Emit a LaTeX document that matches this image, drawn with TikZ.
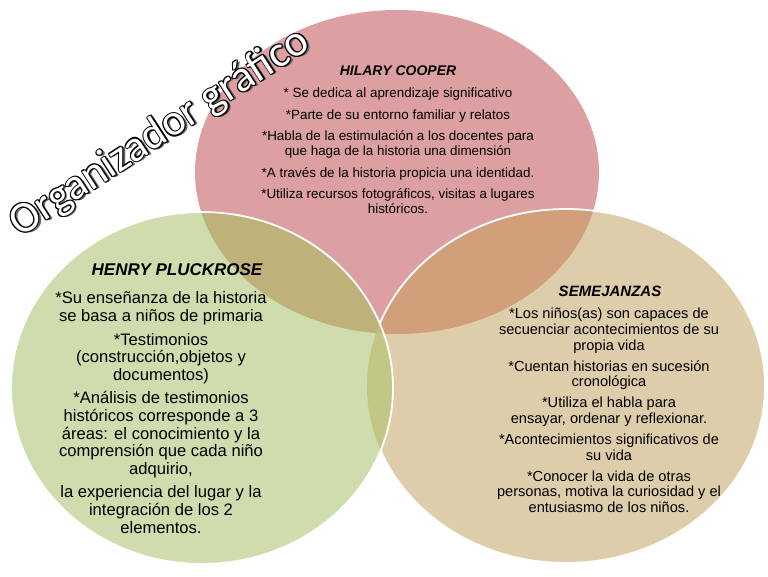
\documentclass[tikz,border=0pt]{standalone}
\usepackage{fontspec}
\setmainfont{Liberation Sans}
\newfontfamily\titlefont{Carlito}
\usetikzlibrary{positioning}
\definecolor{hilarypink}{RGB}{221,160,162}
\definecolor{henrygreen}{RGB}{207,221,174}
\definecolor{semejtan}{RGB}{222,205,170}
\definecolor{pinkgreen}{RGB}{190,177,122}
\definecolor{pinktan}{RGB}{209,160,122}
\definecolor{greentan}{RGB}{194,199,134}
\definecolor{allthree}{RGB}{192,186,124}
\newcommand{\hilaryshape}{(397,172) ellipse [x radius=202, y radius=162]}
\newcommand{\henryshape}{(202,388) ellipse [x radius=191, y radius=176]}
\newcommand{\semejshape}{(566,386) ellipse [x radius=199, y radius=177]}

\begin{document}
\begin{tikzpicture}[x=1pt, y=-1pt,
  head/.style={font=\fontsize{14}{16}\selectfont\bfseries\itshape},
  pinkbody/.style={align=center, font=\fontsize{13.4}{15}\selectfont},
  greenbody/.style={align=center, font=\fontsize{16.6}{17.6}\selectfont},
  tanbody/.style={align=center, font=\fontsize{14.6}{15.6}\selectfont},
  titletext/.style={font=\titlefont\fontsize{44}{44}\selectfont, rotate=33}]
\useasboundingbox (0,0) rectangle (768,576);

% Circles
\fill[hilarypink] \hilaryshape;
\fill[semejtan] \semejshape;
\fill[henrygreen] \henryshape;

% Overlaps
\begin{scope}
\clip \hilaryshape;
\fill[pinktan] \semejshape;
\fill[pinkgreen] \henryshape;
\end{scope}
\begin{scope}
\clip \semejshape;
\fill[greentan] \henryshape;
\clip \hilaryshape;
\fill[allthree] \henryshape;
\end{scope}

% White edges
\begin{scope}[even odd rule]
\clip (0,0) rectangle (768,576) \henryshape;
\draw[white, line width=1.8pt] \semejshape;
\end{scope}
\draw[white, line width=1.8pt] \henryshape;

% Title (shadow, outline, fill)
\node[titletext, text=black!60, xshift=2pt, yshift=-2pt] at (160,133) {Organizador gráfico};
\foreach \a in {0,45,...,315}
  \node[titletext, text=black, shift={(\a:1.1pt)}] at (160,133) {Organizador gráfico};
\node[titletext, text=white] (title) at (160,133) {Organizador gráfico};

% Hilary Cooper
\node[head] (hilaryhead) at (398,71) {HILARY COOPER};
\node[pinkbody] (hilarytext) at (398,151) {* Se dedica al aprendizaje significativo\\[6.5pt]
*Parte de su entorno familiar y relatos\\[6.5pt]
*Habla de la estimulación a los docentes para\\
que haga de la historia una dimensión\\[6.5pt]
*A través de la historia propicia una identidad.\\[6.5pt]
*Utiliza recursos fotográficos, visitas a lugares\\
históricos.};

% Henry Pluckrose
\node[head, font=\fontsize{17}{19}\selectfont\bfseries\itshape] (henryhead) at (177,270) {HENRY PLUCKROSE};
\node[greenbody] (henrytext) at (161,412.5) {*Su enseñanza de la historia\\
se basa a niños de primaria\\[6pt]
*Testimonios\\
(construcción,objetos y\\
documentos)\\[6pt]
*Análisis de testimonios\\
históricos corresponde a 3\\
áreas: el conocimiento y la\\
comprensión que cada niño\\
adquirio,\\[6pt]
la experiencia del lugar y la\\
integración de los 2\\
elementos.};

% Semejanzas
\node[head, font=\fontsize{15}{17}\selectfont\bfseries\itshape] (semejhead) at (610,291) {SEMEJANZAS};
\node[tanbody] (semejtext) at (609,410.5) {*Los niños(as) son capaces de\\
secuenciar acontecimientos de su\\
propia vida\\[5.5pt]
*Cuentan historias en sucesión\\
cronológica\\[5.5pt]
*Utiliza el habla para\\
ensayar, ordenar y reflexionar.\\[5.5pt]
*Acontecimientos significativos de\\
su vida\\[5.5pt]
*Conocer la vida de otras\\
personas, motiva la curiosidad y el\\
entusiasmo de los niños.};

\end{tikzpicture}
\end{document}
